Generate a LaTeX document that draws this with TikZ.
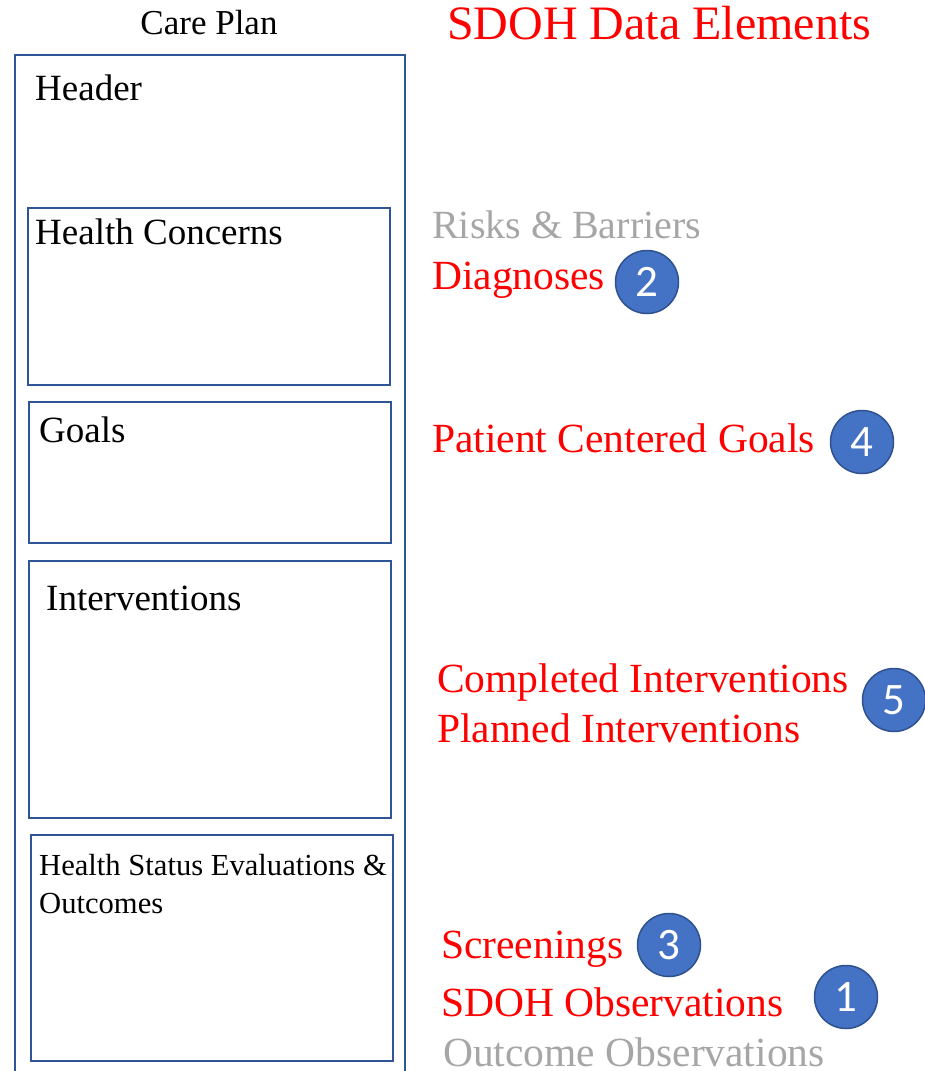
\documentclass[tikz,border=0pt]{standalone}
\usepackage{fontspec}
\setmainfont{Liberation Serif}
\newfontfamily\numfont{Carlito}
\usetikzlibrary{positioning}
\definecolor{planblue}{HTML}{2F5597}
\definecolor{dotblue}{HTML}{4472C4}
\definecolor{dotedge}{HTML}{2F528F}
\definecolor{greytext}{HTML}{A6A6A6}
\newcommand{\boxline}{2pt}
\newcommand{\dotsize}{63pt}

\tikzset{
  section/.style={draw=planblue, line width=\boxline, anchor=north west, inner sep=0pt},
  heading/.style={anchor=base west, inner sep=0pt, font=\fontsize{37}{40}\selectfont},
  element/.style={anchor=base west, inner sep=0pt, text=red, font=\fontsize{41.5}{44}\selectfont},
  faded/.style={element, text=greytext},
  badge/.style={circle, fill=dotblue, draw=dotedge, line width=1.5pt, minimum size=\dotsize,
    inner sep=0pt, text=white, font=\numfont\fontsize{45}{48}\selectfont}
}

\begin{document}
\begin{tikzpicture}[x=1pt, y=-1pt]
\useasboundingbox (0,0) rectangle (925,1071);
% care plan column
\node[anchor=base, inner sep=0pt, font=\fontsize{35}{40}\selectfont] (title) at (209,34) {Care Plan};
\node[section, minimum width=390pt, minimum height=1040pt] (plan) at (14,54) {};
\node[heading] (header) at (35,100) {Header};
\node[section, minimum width=362pt, minimum height=177pt] (concerns) at (27,207) {};
\node[heading] (concernstext) at (35,244) {Health Concerns};
\node[section, minimum width=362pt, minimum height=141pt] (goals) at (28,401) {};
\node[heading] (goalstext) at (39,442) {Goals};
\node[section, minimum width=362pt, minimum height=257pt] (interv) at (28,560) {};
\node[heading] (intervtext) at (46,610) {Interventions};
\node[section, minimum width=362pt, minimum height=226pt] (status) at (30,834) {};
\node[heading, font=\fontsize{30.6}{37}\selectfont] (statustext) at (39,875) {Health Status Evaluations \&};
\node[heading, font=\fontsize{30.6}{37}\selectfont] (statustext2) at (39,913) {Outcomes};
% sdoh elements
\node[element, font=\fontsize{48}{50}\selectfont] (sdoh) at (447,39) {SDOH Data Elements};
\node[faded, font=\fontsize{40}{44}\selectfont] (risks) at (432,238) {Risks \& Barriers};
\node[element] (diag) at (432,289) {Diagnoses};
\node[element] (pcg) at (432,452) {Patient Centered Goals};
\node[element] (done) at (437,692) {Completed Interventions};
\node[element] (planned) at (437,742) {Planned Interventions};
\node[element] (screen) at (441,958) {Screenings};
\node[element] (obs) at (441,1016) {SDOH Observations};
\node[faded] (outcome) at (443,1066) {Outcome Observations};
% numbered badges
\node[badge] (b2) at (647,282) {2};
\node[badge] (b4) at (862,442) {4};
\node[badge] (b5) at (894,700) {5};
\node[badge] (b3) at (669,945) {3};
\node[badge] (b1) at (846,997) {1};
\end{tikzpicture}
\end{document}
